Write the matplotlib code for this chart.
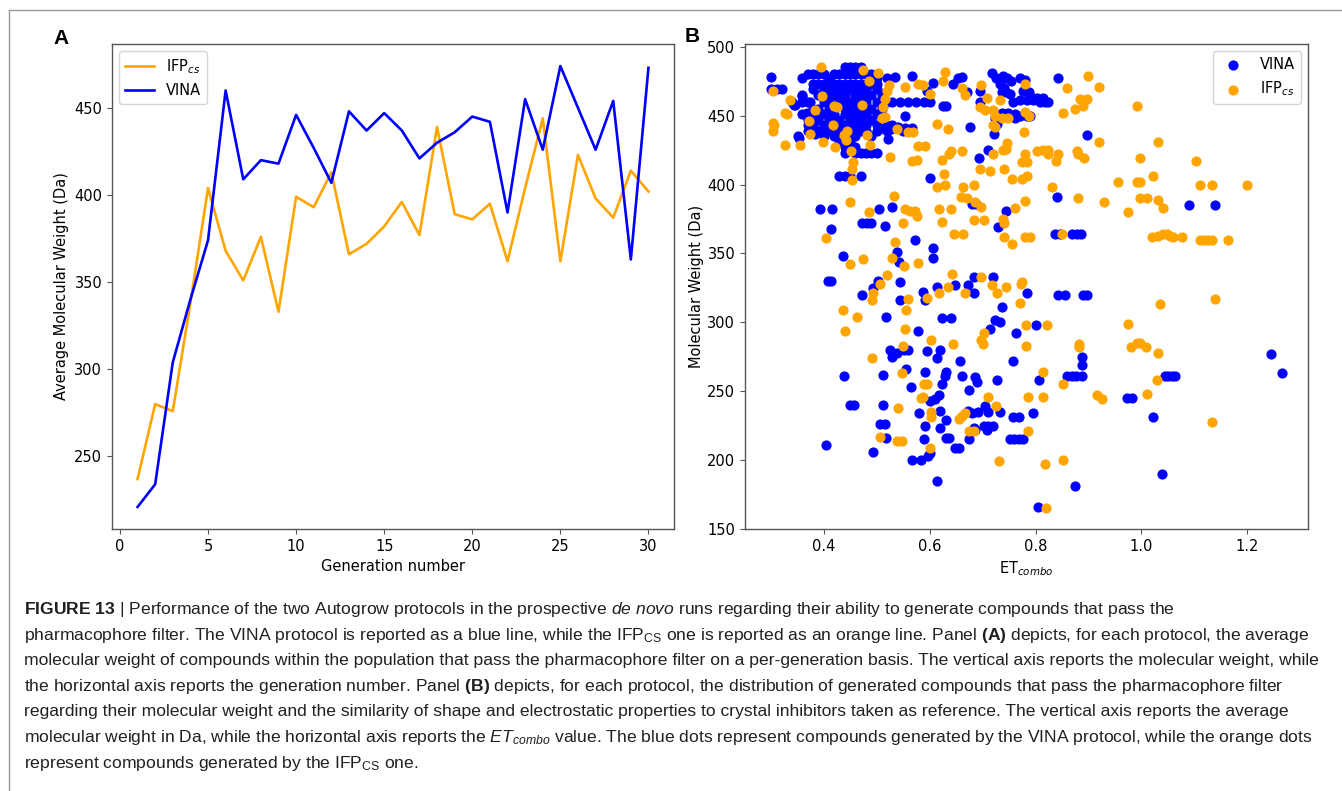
import matplotlib
matplotlib.use('Agg')
import matplotlib.pyplot as plt
from matplotlib.lines import Line2D

# panel A: average molecular weight per generation
generation = list(range(1, 31))
vina_avg_mw = [221, 234, 304, 340, 374, 460, 409, 420, 418, 446,
               427, 407, 448, 437, 447, 437, 421, 430, 436, 445,
               442, 390, 455, 426, 474, 450, 426, 454, 363, 473]
ifp_avg_mw = [237, 280, 276, 338, 404, 368, 351, 376, 333, 399,
              393, 413, 366, 372, 382, 396, 377, 439, 389, 386,
              395, 362, 404, 444, 362, 423, 398, 387, 414, 402]

# panel B: ET_combo vs molecular weight
vina_points = [
    # dense cluster top left
    (0.300, 478), (0.300, 469), (0.313, 469), (0.322, 469), (0.345, 458), (0.352, 435),
    (0.44, 485), (0.45, 485), (0.46, 485), (0.47, 485),
    (0.37, 480), (0.38, 480), (0.39, 480), (0.40, 480), (0.42, 480), (0.43, 480),
    (0.44, 480), (0.45, 480), (0.46, 480), (0.47, 480), (0.48, 480), (0.49, 480),
    (0.36, 477), (0.41, 477), (0.50, 477), (0.52, 477),
    (0.38, 473), (0.39, 473), (0.40, 473), (0.41, 473), (0.42, 473), (0.43, 473), (0.44, 473),
    (0.45, 473), (0.46, 473), (0.47, 473), (0.48, 473), (0.49, 473), (0.50, 473),
    (0.38, 469), (0.40, 469), (0.41, 469), (0.42, 469), (0.43, 469), (0.44, 469),
    (0.45, 469), (0.46, 469), (0.47, 469), (0.48, 469), (0.50, 469),
    (0.36, 465), (0.39, 465), (0.41, 465), (0.42, 465), (0.43, 465), (0.44, 465),
    (0.46, 465), (0.47, 465), (0.48, 465), (0.49, 465), (0.51, 465),
    (0.34, 460), (0.36, 460), (0.37, 460), (0.40, 460), (0.41, 460), (0.43, 460), (0.44, 460),
    (0.45, 460), (0.46, 460), (0.47, 460), (0.48, 460), (0.50, 460), (0.52, 460),
    (0.38, 455), (0.39, 455), (0.41, 455), (0.42, 455), (0.44, 455), (0.45, 455),
    (0.46, 455), (0.47, 455), (0.48, 455), (0.49, 455), (0.51, 455),
    (0.36, 451), (0.38, 451), (0.40, 451), (0.41, 451), (0.42, 451), (0.44, 451),
    (0.45, 451), (0.46, 451), (0.47, 451), (0.48, 451), (0.50, 451),
    (0.37, 447), (0.39, 447), (0.41, 447), (0.42, 447), (0.43, 447), (0.45, 447),
    (0.46, 447), (0.47, 447), (0.49, 447),
    (0.37, 443), (0.38, 443), (0.40, 443), (0.42, 443), (0.43, 443), (0.44, 443), (0.45, 443),
    (0.46, 443), (0.47, 443), (0.48, 443), (0.50, 443), (0.52, 443), (0.53, 443),
    (0.37, 439), (0.39, 439), (0.41, 439), (0.43, 439), (0.44, 439), (0.45, 439),
    (0.46, 439), (0.47, 439), (0.48, 439), (0.50, 439), (0.52, 439), (0.55, 439),
    (0.40, 435), (0.42, 435), (0.44, 435), (0.46, 435), (0.49, 435),
    (0.43, 431), (0.44, 431), (0.45, 431), (0.44, 427), (0.45, 427), (0.46, 427),
    (0.44, 423), (0.46, 423), (0.47, 423), (0.48, 423), (0.49, 423), (0.50, 423),
    (0.43, 406), (0.44, 406), (0.45, 406), (0.47, 406),
    (0.504, 440), (0.515, 441), (0.527, 440), (0.540, 442), (0.553, 441), (0.566, 441),
    (0.522, 433), (0.554, 450), (0.534, 478), (0.566, 479), (0.595, 468),
    (0.359, 464), (0.346, 458), (0.375, 460), (0.368, 452), (0.381, 450), (0.375, 443),
    (0.384, 437), (0.400, 438), (0.353, 434),
    (0.516, 461), (0.530, 460), (0.545, 460), (0.560, 460), (0.575, 460), (0.590, 460), (0.600, 460),
    # upper middle
    (0.607, 474), (0.626, 457), (0.632, 457), (0.645, 473), (0.654, 477), (0.661, 478),
    (0.670, 467), (0.676, 442), (0.695, 468), (0.695, 460), (0.711, 425), (0.694, 419),
    (0.717, 481), (0.726, 477), (0.738, 479), (0.747, 477), (0.754, 475), (0.741, 470),
    (0.751, 466), (0.745, 467), (0.733, 473), (0.736, 467),
    (0.758, 460), (0.771, 461), (0.783, 461), (0.796, 461), (0.808, 460), (0.818, 460), (0.824, 460),
    (0.771, 477), (0.780, 476), (0.777, 468), (0.787, 467), (0.790, 464), (0.802, 463), (0.815, 463),
    (0.736, 452), (0.749, 452), (0.761, 451), (0.771, 450), (0.783, 450), (0.790, 450), (0.761, 448),
    (0.724, 448), (0.727, 444), (0.722, 437), (0.843, 477), (0.897, 436), (0.601, 405),
    (0.680, 386), (0.688, 386), (0.744, 381), (0.730, 369), (0.840, 391),
    (0.837, 364), (0.846, 364), (0.868, 364), (0.878, 364), (0.885, 364),
    (0.606, 354), (0.607, 347), (0.683, 333), (0.720, 333),
    # lower middle
    (0.614, 326), (0.648, 327), (0.673, 327), (0.683, 321), (0.783, 321),
    (0.843, 320), (0.856, 320), (0.890, 320), (0.898, 320),
    (0.736, 311), (0.623, 303), (0.640, 303), (0.724, 302), (0.733, 300), (0.714, 295),
    (0.763, 292), (0.801, 298),
    (0.620, 280), (0.614, 274), (0.658, 272), (0.757, 272), (0.887, 275), (0.887, 269),
    (0.859, 261), (0.868, 261), (0.877, 261), (0.887, 261),
    (0.632, 264), (0.629, 261), (0.623, 255), (0.662, 261), (0.686, 260), (0.689, 257),
    (0.727, 258), (0.807, 258), (0.675, 251),
    (0.601, 243), (0.610, 244), (0.617, 247), (0.620, 236), (0.632, 229),
    (0.673, 236), (0.680, 234), (0.692, 235), (0.705, 239), (0.711, 235), (0.733, 235),
    (0.702, 225), (0.711, 225), (0.720, 225), (0.708, 222), (0.686, 222), (0.683, 223),
    (0.758, 231), (0.768, 231), (0.796, 234), (0.619, 223), (0.632, 216), (0.636, 216),
    (0.648, 209), (0.655, 209), (0.675, 215),
    (0.752, 215), (0.760, 215), (0.768, 215), (0.777, 215),
    (0.614, 185), (0.875, 181), (0.805, 166), (0.601, 205),
    # right side
    (1.090, 385), (1.138, 385), (0.972, 245), (0.983, 245), (1.021, 231),
    (1.044, 261), (1.050, 261), (1.057, 261), (1.063, 261), (1.038, 190),
    (1.244, 277), (1.266, 263),
    # left, middle height
    (0.394, 382), (0.416, 382), (0.414, 368), (0.504, 382), (0.529, 384),
    (0.472, 372), (0.482, 372), (0.490, 372), (0.515, 370), (0.573, 360),
    (0.436, 348), (0.538, 351), (0.543, 344), (0.408, 330), (0.414, 330),
    (0.502, 330), (0.494, 325), (0.545, 329), (0.472, 320), (0.587, 322), (0.592, 316),
    (0.545, 316), (0.517, 304), (0.579, 294), (0.526, 280), (0.539, 278), (0.551, 280),
    (0.560, 280), (0.595, 279), (0.529, 275),
    # left, low
    (0.438, 261), (0.450, 240), (0.457, 240), (0.513, 262), (0.513, 240),
    (0.507, 226), (0.516, 226), (0.517, 216), (0.405, 211), (0.494, 206),
    (0.555, 266), (0.592, 264), (0.565, 253), (0.580, 234), (0.592, 225),
    (0.590, 215), (0.598, 203), (0.566, 200), (0.584, 200),
]

ifp_points = [
    # top left
    (0.395, 485), (0.475, 483), (0.502, 481), (0.485, 475), (0.524, 472), (0.519, 468),
    (0.553, 471), (0.579, 473), (0.304, 468), (0.336, 461), (0.397, 464), (0.472, 458),
    (0.513, 456), (0.516, 462), (0.419, 457), (0.425, 456), (0.327, 452), (0.331, 451),
    (0.384, 454), (0.305, 445), (0.307, 443), (0.305, 439), (0.373, 446), (0.417, 443),
    (0.444, 439), (0.438, 436), (0.443, 432), (0.510, 448), (0.515, 449), (0.538, 440),
    (0.560, 438), (0.568, 438), (0.482, 436), (0.375, 437), (0.398, 431), (0.327, 429),
    (0.356, 429), (0.421, 427), (0.452, 424), (0.488, 429), (0.526, 420), (0.579, 428),
    (0.592, 428), (0.566, 417), (0.576, 418), (0.456, 416), (0.453, 411), (0.454, 403),
    (0.600, 466), (0.588, 472),
    # left, middle height
    (0.532, 392), (0.449, 387), (0.486, 380), (0.554, 382), (0.563, 381), (0.573, 381),
    (0.576, 377), (0.549, 372), (0.404, 361), (0.534, 358), (0.530, 347), (0.551, 341),
    (0.578, 343), (0.450, 342), (0.475, 346), (0.519, 334), (0.507, 328), (0.494, 321),
    (0.491, 316), (0.560, 317), (0.595, 318), (0.555, 309), (0.436, 309), (0.463, 304),
    (0.441, 294), (0.554, 295), (0.602, 287), (0.549, 283), (0.492, 274),
    # left, low
    (0.548, 263), (0.590, 255), (0.595, 255), (0.584, 245), (0.588, 246), (0.540, 238),
    (0.507, 217), (0.538, 214), (0.548, 214), (0.601, 209), (0.603, 235), (0.603, 231),
    # upper middle
    (0.629, 482), (0.626, 475), (0.661, 470), (0.667, 465), (0.698, 472), (0.709, 463),
    (0.733, 461), (0.695, 456), (0.705, 454), (0.720, 454), (0.724, 450), (0.749, 448),
    (0.736, 448), (0.780, 473), (0.780, 453), (0.787, 450), (0.720, 443), (0.724, 442),
    (0.615, 444), (0.634, 440), (0.778, 438), (0.859, 470), (0.900, 479), (0.920, 471),
    (0.884, 462), (0.897, 462), (0.889, 457), (0.875, 455), (0.851, 452), (0.919, 431),
    (0.747, 430), (0.744, 426), (0.739, 425), (0.636, 422), (0.640, 424), (0.623, 418),
    (0.661, 424), (0.719, 422), (0.780, 422), (0.774, 416), (0.783, 416), (0.802, 424),
    (0.815, 425), (0.824, 425), (0.824, 422), (0.843, 422), (0.839, 417), (0.878, 424),
    (0.881, 422), (0.892, 419), (0.695, 411), (0.714, 410), (0.741, 411), (0.627, 408),
    (0.614, 398), (0.629, 400), (0.755, 404), (0.774, 404), (0.783, 406), (0.663, 398),
    (0.684, 400), (0.832, 398), (0.956, 402), (0.659, 391), (0.670, 390), (0.686, 387),
    (0.698, 384), (0.780, 388), (0.881, 390), (0.929, 387), (0.617, 382), (0.640, 382),
    (0.761, 383), (0.623, 373), (0.684, 374), (0.702, 374), (0.738, 375), (0.741, 372),
    (0.646, 364), (0.664, 364), (0.741, 362), (0.755, 357), (0.780, 362), (0.790, 362),
    (0.850, 364), (0.642, 335), (0.697, 333), (0.774, 329),
    # lower middle
    (0.634, 326), (0.617, 321), (0.667, 321), (0.717, 327), (0.744, 326), (0.727, 321),
    (0.772, 328), (0.771, 314), (0.782, 298), (0.821, 298), (0.703, 292), (0.698, 287),
    (0.700, 284), (0.644, 284), (0.782, 283), (0.883, 284), (0.883, 282), (0.815, 264),
    (0.851, 255), (0.711, 246), (0.785, 246), (0.814, 246), (0.725, 239), (0.917, 247),
    (0.925, 244), (0.656, 230), (0.662, 232), (0.667, 234), (0.675, 221), (0.683, 221),
    (0.785, 221), (0.732, 199), (0.817, 197), (0.851, 200), (0.820, 165),
    # right side
    (0.991, 457), (1.031, 431), (0.997, 419), (1.102, 417), (0.991, 402), (0.997, 402),
    (1.022, 406), (1.110, 400), (1.134, 400), (1.200, 400), (0.997, 390), (1.010, 390),
    (1.031, 389), (1.040, 383), (0.975, 380), (1.019, 362), (1.032, 363), (1.041, 364),
    (1.048, 364), (1.054, 363), (1.060, 362), (1.076, 362), (1.110, 360), (1.118, 360),
    (1.126, 360), (1.134, 360), (1.164, 360), (1.035, 313), (1.138, 317), (0.974, 299),
    (0.980, 282), (0.991, 285), (0.997, 285), (1.008, 282), (1.032, 278), (1.029, 258),
    (1.010, 248), (1.134, 228),
]

caption_lines = [
    r"$\mathbf{FIGURE\ 13}$ | Performance of the two Autogrow protocols in the prospective $\mathit{de\ novo}$ runs regarding their ability to generate compounds that pass the",
    r"pharmacophore filter. The VINA protocol is reported as a blue line, while the IFP$_{\mathrm{CS}}$ one is reported as an orange line. Panel $\mathbf{(A)}$ depicts, for each protocol, the average",
    r"molecular weight of compounds within the population that pass the pharmacophore filter on a per-generation basis. The vertical axis reports the molecular weight, while",
    r"the horizontal axis reports the generation number. Panel $\mathbf{(B)}$ depicts, for each protocol, the distribution of generated compounds that pass the pharmacophore filter",
    r"regarding their molecular weight and the similarity of shape and electrostatic properties to crystal inhibitors taken as reference. The vertical axis reports the average",
    r"molecular weight in Da, while the horizontal axis reports the $\mathit{ET}_{\mathit{combo}}$ value. The blue dots represent compounds generated by the VINA protocol, while the orange dots",
    r"represent compounds generated by the IFP$_{\mathrm{CS}}$ one.",
]

plt.rcParams['mathtext.rm'] = 'Liberation Sans'
plt.rcParams['mathtext.it'] = 'Liberation Sans:italic'
plt.rcParams['mathtext.bf'] = 'Liberation Sans:bold'

W, H = 1342, 791
fig = plt.figure(figsize=(W / 100, H / 100), dpi=100)
label_size = 10.5

# panel A
ax1 = fig.add_axes([112 / W, 1 - 529 / H, 562 / W, 485 / H])
ax1.plot(generation, ifp_avg_mw, color='orange', lw=1.9, label='IFP$_{cs}$')
ax1.plot(generation, vina_avg_mw, color='blue', lw=1.9, label='VINA')
ax1.set_xlabel('Generation number', fontsize=label_size)
ax1.set_ylabel('Average Molecular Weight (Da)', fontsize=label_size)
ax1.legend(loc='upper left', fontsize=label_size)

# panel B
vina_et = [p[0] for p in vina_points]
vina_mw = [p[1] for p in vina_points]
ifp_et = [p[0] for p in ifp_points]
ifp_mw = [p[1] for p in ifp_points]
ax2 = fig.add_axes([745 / W, 1 - 529 / H, 563 / W, 485 / H])
ax2.scatter(vina_et, vina_mw, color='blue', s=40, label='VINA')
ax2.scatter(ifp_et, ifp_mw, color='orange', s=40, label='IFP$_{cs}$')
ax2.set_ylim(150, 502)
ax2.set_xlabel('ET$_{combo}$', fontsize=label_size)
ax2.set_ylabel('Molecular Weight (Da)', fontsize=label_size, labelpad=2)
ax2.legend(loc='upper right', fontsize=label_size)

for ax in (ax1, ax2):
    ax.tick_params(labelsize=label_size, color='#555555')
    for sp in ax.spines.values():
        sp.set_color('#555555')
        sp.set_linewidth(1.0)

fig.text(61 / W, 1 - 38 / H, 'A', family='Liberation Sans', weight='bold',
         fontsize=15, ha='center', va='center')
fig.text(692 / W, 1 - 37 / H, 'B', family='Liberation Sans', weight='bold',
         fontsize=15, ha='center', va='center')

# page frame
fig.add_artist(Line2D([9 / W, 1.0], [1 - 10 / H, 1 - 10 / H], color='#999999', lw=1))
fig.add_artist(Line2D([9 / W, 9 / W], [0.0, 1 - 10 / H], color='#999999', lw=1))

# caption
for i, line in enumerate(caption_lines):
    fig.text(24 / W, 1 - (614 + 25.6 * i) / H, line, family='Liberation Sans',
             fontsize=12.6, color='#231f20', ha='left', va='baseline',
             math_fontfamily='custom')

fig.savefig('out.png', dpi=100)
